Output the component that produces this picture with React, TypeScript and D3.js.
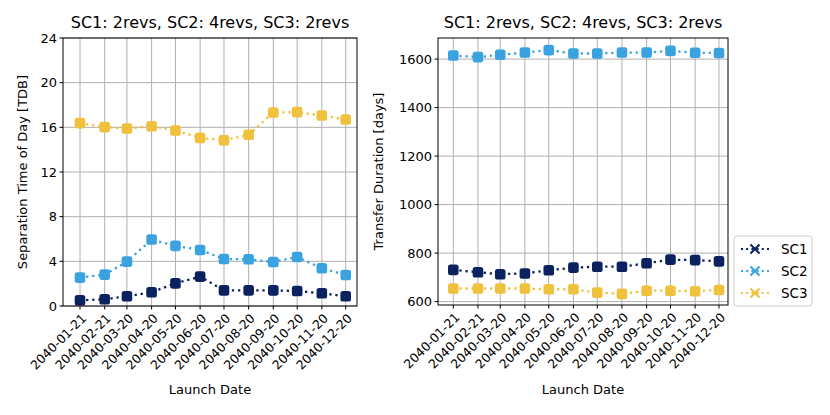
import React from "react";
import * as d3 from "d3";

const launchDates = [
  "2040-01-21", "2040-02-21", "2040-03-20", "2040-04-20", "2040-05-20", "2040-06-20",
  "2040-07-20", "2040-08-20", "2040-09-20", "2040-10-20", "2040-11-20", "2040-12-20",
];

const seriesNames = ["SC1", "SC2", "SC3"];
const seriesColors = ["#0b2160", "#3aa3df", "#efc13d"];

// separation time of day [TDB hours]
const sepSC1 = [0.51, 0.6, 0.87, 1.23, 2.03, 2.63, 1.4, 1.4, 1.4, 1.34, 1.14, 0.87];
const sepSC2 = [2.54, 2.81, 3.97, 5.95, 5.38, 5.02, 4.21, 4.18, 3.94, 4.39, 3.38, 2.78];
const sepSC3 = [16.38, 16.02, 15.9, 16.1, 15.72, 15.06, 14.85, 15.33, 17.33, 17.36, 17.06, 16.7];

// transfer duration [days]
const durSC1 = [731, 721, 713, 716, 729, 740, 744, 744, 758, 773, 771, 766];
const durSC2 = [1615, 1608, 1618, 1627, 1637, 1623, 1623, 1627, 1627, 1634, 1626, 1625];
const durSC3 = [654, 654, 654, 654, 651, 651, 637, 632, 645, 645, 643, 648];

const sepTicks = [0, 4, 8, 12, 16, 20, 24];
const durTicks = [600, 800, 1000, 1200, 1400, 1600];

const titleText = "SC1: 2revs, SC2: 4revs, SC3: 2revs";
const font = "'DejaVu Sans', sans-serif";

const parse = d3.utcParse("%Y-%m-%d");
const dates = launchDates.map((d) => parse(d) as Date);

interface PanelProps {
  left: number;
  right: number;
  top: number;
  bottom: number;
  padL: number;
  padR: number;
  yDomain: [number, number];
  yTicks: number[];
  yLabel: string;
  yLabelX: number;
  series: number[][];
}

const xMarker = (cx: number, cy: number, r: number) =>
  `M${cx - r},${cy - r}L${cx + r},${cy + r}M${cx - r},${cy + r}L${cx + r},${cy - r}`;

const Panel: React.FC<PanelProps> = ({
  left, right, top, bottom, padL, padR, yDomain, yTicks, yLabel, yLabelX, series,
}) => {
  const x = d3
    .scaleUtc()
    .domain([dates[0], dates[dates.length - 1]])
    .range([left + padL, right - padR]);
  const y = d3.scaleLinear().domain(yDomain).range([bottom, top]);

  const line = d3
    .line<number>()
    .x((_, i) => x(dates[i]))
    .y((v) => y(v));

  return (
    <g>
      {/* grid */}
      {dates.map((d, i) => (
        <line key={"gx" + i} x1={x(d)} x2={x(d)} y1={top} y2={bottom} stroke="#b0b0b0" strokeWidth={1} />
      ))}
      {yTicks.map((t) => (
        <line key={"gy" + t} x1={left} x2={right} y1={y(t)} y2={y(t)} stroke="#b0b0b0" strokeWidth={1} />
      ))}

      {/* series */}
      {series.map((vals, si) => (
        <g key={"s" + si}>
          <path
            d={line(vals) ?? ""}
            fill="none"
            stroke={seriesColors[si]}
            strokeWidth={2.3}
            strokeDasharray="2.3,3.8"
          />
          {vals.map((v, i) => (
            <rect
              key={i}
              x={x(dates[i]) - 5.3}
              y={y(v) - 5.3}
              width={10.6}
              height={10.6}
              rx={2.6}
              fill={seriesColors[si]}
            />
          ))}
        </g>
      ))}

      {/* frame */}
      <rect x={left} y={top} width={right - left} height={bottom - top} fill="none" stroke="#000" strokeWidth={1} />

      {/* y ticks */}
      {yTicks.map((t) => (
        <g key={"yt" + t}>
          <line x1={left - 3.5} x2={left} y1={y(t)} y2={y(t)} stroke="#000" />
          <text x={left - 6} y={y(t)} dy="0.35em" textAnchor="end" fontSize={13} fontFamily={font}>
            {t}
          </text>
        </g>
      ))}

      {/* x ticks */}
      {dates.map((d, i) => (
        <g key={"xt" + i}>
          <line x1={x(d)} x2={x(d)} y1={bottom} y2={bottom + 3.5} stroke="#000" />
          <text
            transform={`translate(${x(d) + 4},${bottom + 10}) rotate(-45)`}
            textAnchor="end"
            dy="0.35em"
            fontSize={12.5}
            fontFamily={font}
          >
            {launchDates[i]}
          </text>
        </g>
      ))}

      <text x={(left + right) / 2} y={top - 10} textAnchor="middle" fontSize={16} fontFamily={font}>
        {titleText}
      </text>
      <text x={(left + right) / 2} y={394} textAnchor="middle" fontSize={13} fontFamily={font}>
        Launch Date
      </text>
      <text
        transform={`translate(${yLabelX},${(top + bottom) / 2}) rotate(-90)`}
        textAnchor="middle"
        fontSize={13}
        fontFamily={font}
      >
        {yLabel}
      </text>
    </g>
  );
};

const Legend: React.FC<{ x: number; y: number }> = ({ x, y }) => (
  <g transform={`translate(${x},${y})`}>
    <rect x={0} y={0} width={78} height={70} rx={3} fill="#fff" stroke="#cccccc" strokeWidth={1} />
    {seriesNames.map((name, i) => {
      const cy = 13 + i * 22;
      return (
        <g key={name}>
          <line x1={7} x2={35} y1={cy} y2={cy} stroke={seriesColors[i]} strokeWidth={2} strokeDasharray="2,3.2" />
          <path d={xMarker(21, cy, 4.5)} stroke={seriesColors[i]} strokeWidth={2} fill="none" />
          <text x={47} y={cy} dy="0.35em" fontSize={13.5} fontFamily={font}>
            {name}
          </text>
        </g>
      );
    })}
  </g>
);

export default function App() {
  return (
    <svg
      width={830}
      height={415}
      style={{ position: "absolute", left: 0, top: 0, background: "#fff" }}
    >
      <Panel
        left={63}
        right={357}
        top={38}
        bottom={306}
        padL={17}
        padR={11.3}
        yDomain={[0, 24]}
        yTicks={sepTicks}
        yLabel="Separation Time of Day [TDB]"
        yLabelX={27}
        series={[sepSC1, sepSC2, sepSC3]}
      />
      <Panel
        left={438}
        right={728}
        top={38}
        bottom={305}
        padL={15.3}
        padR={9}
        yDomain={[586, 1687]}
        yTicks={durTicks}
        yLabel="Transfer Duration [days]"
        yLabelX={383}
        series={[durSC1, durSC2, durSC3]}
      />
      <Legend x={734} y={236} />
    </svg>
  );
}
